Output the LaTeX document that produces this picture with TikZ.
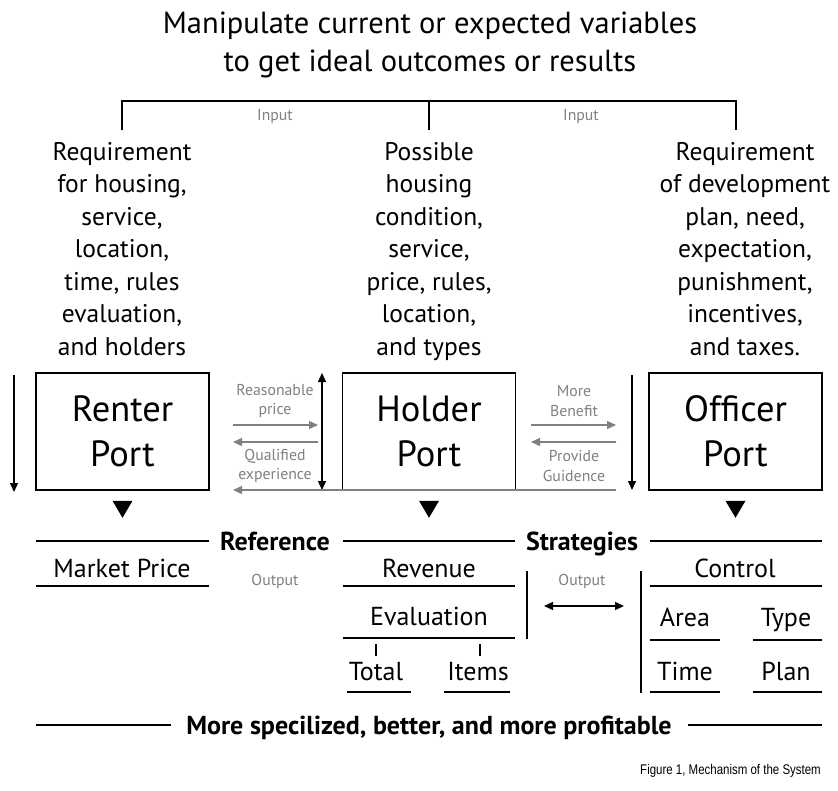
\documentclass[tikz,border=0pt]{standalone}
\usepackage{fontspec}
\setmainfont{PT Sans}
\newfontfamily\capfont[FakeStretch=0.82]{Liberation Sans}
\usetikzlibrary{arrows.meta}
\definecolor{lbl}{HTML}{808080}
\begin{document}
\begin{tikzpicture}[x=1pt,y=-1pt,
  title/.style={font=\fontsize{30.5}{38}\selectfont, align=center, inner sep=0pt, anchor=north},
  txt/.style={font=\fontsize{25.5}{32.5}\selectfont, align=center, inner sep=0pt, anchor=north},
  small/.style={text=lbl, font=\fontsize{15.8}{19.5}\selectfont, align=center, inner sep=0pt},
  port/.style={draw, line width=1.6pt, minimum width=173pt, minimum height=117pt, inner sep=0pt,
               font=\fontsize{36.5}{45}\selectfont, align=center},
  sec/.style={font=\bfseries\fontsize{26}{30}\selectfont, inner sep=0pt, anchor=base},
  cell/.style={font=\fontsize{26}{30}\selectfont, inner sep=0pt, anchor=base},
  rule/.style={line width=1.6pt},
  blk/.style={line width=1.4pt, -{Triangle[length=9pt,width=8pt]}},
  dbl/.style={line width=1.4pt, {Triangle[length=9pt,width=8pt]}-{Triangle[length=9pt,width=8pt]}},
  gry/.style={draw=lbl, line width=1.4pt, -{Triangle[length=9pt,width=8pt]}},
  tri/.style={fill=black}
]
\useasboundingbox (0,0) rectangle (838,790);

% title
\node[title] (title) at (430,12) {Manipulate current or expected variables\\to get ideal outcomes or results};

% input bracket
\coordinate (bL) at (122,101); \coordinate (bM) at (429,101); \coordinate (bR) at (736,101);
\coordinate (bLd) at (122,130); \coordinate (bMd) at (429,130); \coordinate (bRd) at (736,130);
\draw[rule] (bLd) -- (bL) -- (bR) -- (bRd);
\draw[rule] (bM) -- (bMd);
\node[small] (in1) at (275,117) {Input};
\node[small] (in2) at (581,117) {Input};

% column texts
\node[txt] (c1) at (122,142) {Requirement\\for housing,\\service,\\location,\\time, rules\\evaluation,\\and holders};
\node[txt] (c2) at (429,142) {Possible\\housing\\condition,\\service,\\price, rules,\\location,\\and types};
\node[txt] (c3) at (745,142) {Requirement\\of development\\plan, need,\\expectation,\\punishment,\\incentives,\\and taxes.};

% ports
\node[port] (renter) at (122.5,431.5) {Renter\\Port};
\node[port] (holder) at (429,431.5) {Holder\\Port};
\node[port] (officer) at (735.5,431.5) {Officer\\Port};

% triangles under ports
\fill[tri] ([shift={(-10,10)}]renter.south) -- ++(20,0) -- ++(-10,17) -- cycle;
\fill[tri] ([shift={(-10,10)}]holder.south) -- ++(20,0) -- ++(-10,17) -- cycle;
\fill[tri] ([shift={(-10,10)}]officer.south) -- ++(20,0) -- ++(-10,17) -- cycle;

% black vertical arrows
\coordinate (v1a) at (14,375); \coordinate (v1b) at (14,492);
\coordinate (v2a) at (322,373); \coordinate (v2b) at (322,490);
\coordinate (v3a) at (632,375); \coordinate (v3b) at (632,490);
\draw[blk] (v1a) -- (v1b);
\draw[dbl] (v2a) -- (v2b);
\draw[blk] (v3a) -- (v3b);

% gray arrows
\coordinate (g1a) at (233,425); \coordinate (g1b) at (318,425);
\coordinate (g2a) at (318,442); \coordinate (g2b) at (233,442);
\coordinate (g3a) at (531,425); \coordinate (g3b) at (616,425);
\coordinate (g4a) at (616,442); \coordinate (g4b) at (531,442);
\coordinate (g5a) at (616,490); \coordinate (g5b) at (233,490);
\draw[gry] (g1a) -- (g1b);
\draw[gry] (g2a) -- (g2b);
\draw[gry] (g3a) -- (g3b);
\draw[gry] (g4a) -- (g4b);
\draw[gry] (g5a) -- (g5b);
\node[small] (l1) at (275,401) {Reasonable\\price};
\node[small] (l2) at (275,466) {Qualified\\experience};
\node[small] (l3) at (574,401) {More\\Benefit};
\node[small] (l4) at (574,466) {Provide\\Guidence};

% section row
\node[sec] (ref) at (275,550) {Reference};
\node[sec] (strat) at (582,550) {Strategies};
\draw[rule] (36,541) -- (209,541);
\draw[rule] (343,541) -- (515,541);
\draw[rule] (650,541) -- (822,541);

% renter output
\node[cell] (mp) at (122,577) {Market Price};
\draw[rule] (36,586) -- (209,586);
\node[small] (o1) at (275,581) {Output};

% holder output
\node[cell] (rev) at (429,577) {Revenue};
\draw[rule] (343,586) -- (515,586);
\node[cell] (eval) at (429,625) {Evaluation};
\draw[rule] (343,638) -- (515,638);
\draw[line width=1.4pt] (376,644) -- (376,656);
\draw[line width=1.4pt] (480,644) -- (480,656);
\node[cell] (tot) at (376,680) {Total};
\node[cell] (itm) at (478,680) {Items};
\draw[rule] (347,692) -- (411,692);
\draw[rule] (444,692) -- (510,692);

% strategies output
\coordinate (s1a) at (527,571); \coordinate (s1b) at (527,639);
\coordinate (s2a) at (641,571); \coordinate (s2b) at (641,693);
\draw[rule] (s1a) -- (s1b);
\draw[rule] (s2a) -- (s2b);
\node[small] (o2) at (582,581) {Output};
\coordinate (h1) at (544,606); \coordinate (h2) at (624,606);
\draw[dbl] (h1) -- (h2);

% officer output
\node[cell] (ctl) at (735,577) {Control};
\draw[rule] (650,586) -- (822,586);
\node[cell] (area) at (685,626) {Area};
\node[cell] (type) at (786,626) {Type};
\draw[rule] (650,640) -- (720,640);
\draw[rule] (753,640) -- (822,640);
\node[cell] (time) at (685,680) {Time};
\node[cell] (plan) at (786,680) {Plan};
\draw[rule] (650,692) -- (720,692);
\draw[rule] (753,692) -- (822,692);

% bottom
\node[sec] (bot) at (429,734) {More specilized, better, and more profitable};
\draw[rule] (36,725) -- (171,725);
\draw[rule] (688,725) -- (822,725);

% caption
\node[anchor=base east, inner sep=0pt, font=\capfont\fontsize{14}{16}\selectfont] (cap) at (821,774) {Figure 1, Mechanism of the System};
\end{tikzpicture}
\end{document}
